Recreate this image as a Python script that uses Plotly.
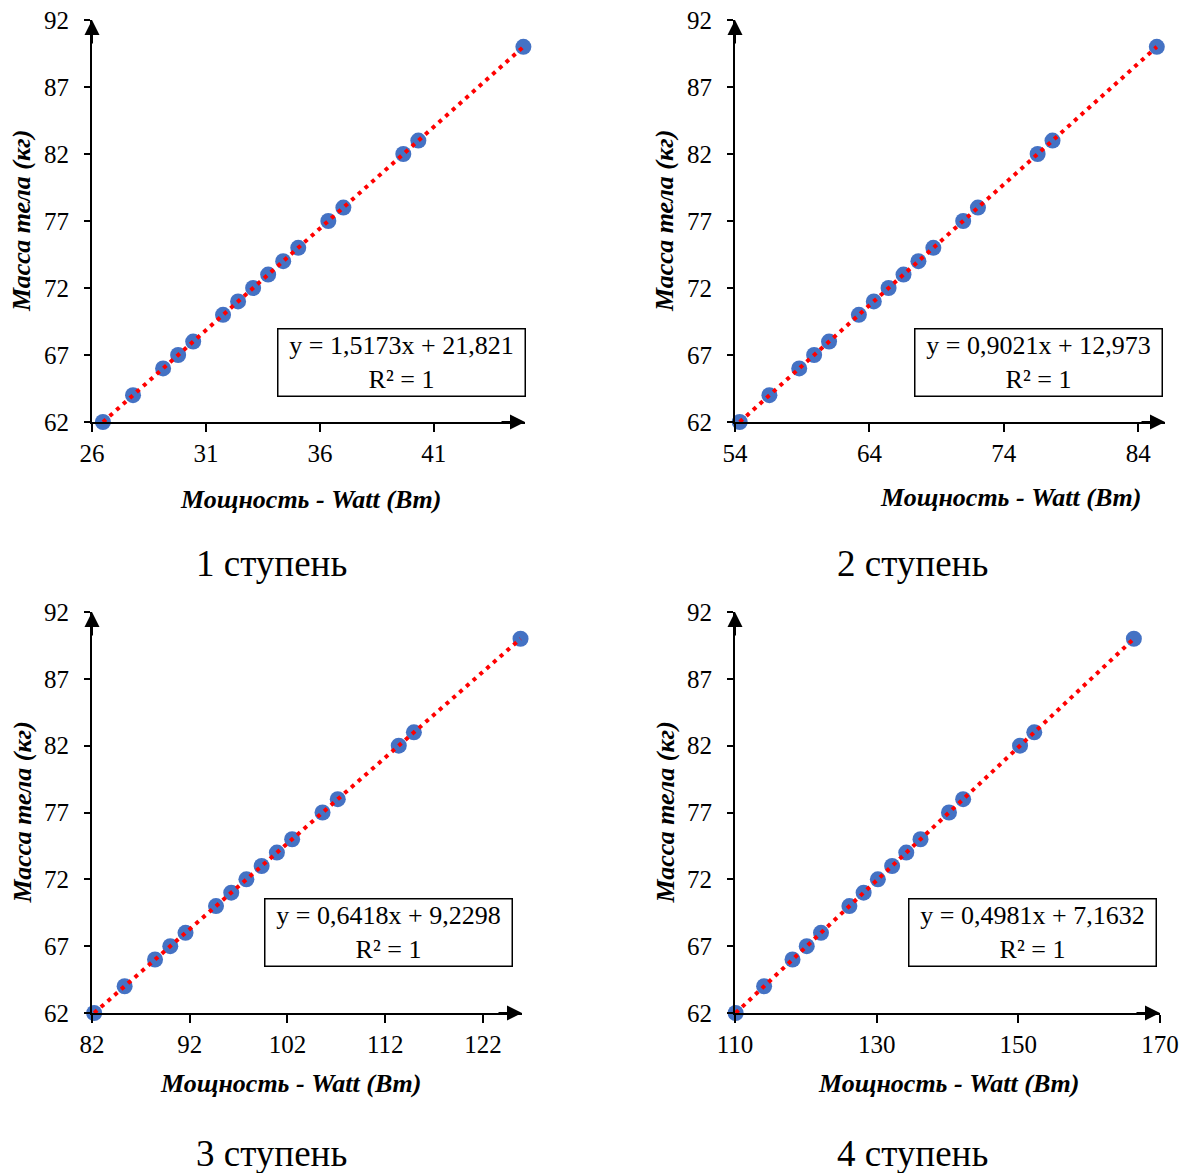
import numpy as np
import plotly.graph_objects as go

# body mass (kg), shared by all four stages
mass = [62, 64, 66, 67, 68, 70, 71, 72, 73, 74, 75, 77, 78, 82, 83, 90]

# power (W) per stage
power_1 = [26.48, 27.80, 29.12, 29.78, 30.44, 31.75, 32.41, 33.07, 33.73, 34.39, 35.05, 36.37, 37.03, 39.66, 40.32, 44.93]
power_2 = [54.35, 56.56, 58.78, 59.89, 61.00, 63.22, 64.33, 65.43, 66.54, 67.65, 68.76, 70.98, 72.08, 76.52, 77.63, 85.39]
power_3 = [82.22, 85.34, 88.45, 90.01, 91.57, 94.69, 96.25, 97.80, 99.36, 100.92, 102.48, 105.59, 107.15, 113.39, 114.94, 125.85]
power_4 = [110.09, 114.11, 118.12, 120.13, 122.14, 126.15, 128.16, 130.17, 132.18, 134.18, 136.19, 140.21, 142.21, 150.24, 152.25, 166.31]

equations = ["y = 1,5173x + 21,821", "y = 0,9021x + 12,973",
             "y = 0,6418x + 9,2298", "y = 0,4981x + 7,1632"]
captions = ["1 ступень", "2 ступень", "3 ступень", "4 ступень"]

W, H = 1189, 1173
FONT = "Liberation Serif"
BLUE = "#4472C4"


def px(x):
  return x / W


def py(y):
  return 1 - y / H


# panel geometry in pixels: (left, right, top, bottom)
boxes = [(92, 525, 20, 422), (735, 1165, 20, 422),
         (92, 522, 612, 1013), (735, 1160, 612, 1013)]
x_ranges = [[26, 45], [54, 86], [82, 126], [110, 170]]
x_ticks = [(26, 5), (54, 10), (82, 10), (110, 20)]
eq_boxes = [(402, 362), (1038, 362), (388, 932), (1032, 932)]
xtitle_pos = [(310, 500), (1010, 497), (290, 1083), (948, 1083)]
caption_pos = [(271, 563), (912, 563), (271, 1153), (912, 1153)]

fig = go.Figure()
layout = dict(width=W, height=H, margin=dict(l=0, r=0, t=0, b=0, autoexpand=False),
              plot_bgcolor="white", paper_bgcolor="white", showlegend=False,
              font=dict(family=FONT, color="black", size=25))
annotations = []


def label(x, y, text, size, **kw):
  return dict(xref="paper", yref="paper", x=px(x), y=py(y), text=text,
              showarrow=False, xanchor="center", yanchor="middle",
              font=dict(family=FONT, size=size, color="black"), **kw)


for i, xs in enumerate([power_1, power_2, power_3, power_4]):
  n = "" if i == 0 else str(i + 1)
  xa, ya = "x" + n, "y" + n
  l, r, t, b = boxes[i]

  fig.add_trace(go.Scatter(x=xs, y=mass, mode="markers", xaxis=xa, yaxis=ya,
                           marker=dict(size=16, color=BLUE), cliponaxis=False))
  # linear trendline over the data range
  k, c = np.polyfit(xs, mass, 1)
  tx = [min(xs), max(xs)]
  fig.add_trace(go.Scatter(x=tx, y=[k * v + c for v in tx], mode="lines",
                           xaxis=xa, yaxis=ya, cliponaxis=False,
                           line=dict(color="#FF0000", width=4, dash="4px,5px")))

  axis_common = dict(showgrid=False, zeroline=False, showline=True, automargin=False,
                     linecolor="black", linewidth=2, ticks="outside",
                     tickcolor="black", tickwidth=1.5,
                     tickfont=dict(family=FONT, size=25, color="black"))
  layout["xaxis" + n] = dict(axis_common, domain=[px(l), px(r)], range=x_ranges[i],
                             anchor=ya, tick0=x_ticks[i][0], dtick=x_ticks[i][1],
                             ticklen=8)
  layout["yaxis" + n] = dict(axis_common, domain=[py(b), py(t)], range=[62, 92],
                             anchor=xa, tick0=62, dtick=5, ticklen=6,
                             ticklabelstandoff=10)

  # arrows at axis ends
  annotations.append(dict(xref=xa + " domain", yref=ya + " domain", x=1, y=0,
                          ax=-25, ay=0, showarrow=True, arrowhead=2, arrowsize=1.5,
                          arrowwidth=2, arrowcolor="black", text=""))
  annotations.append(dict(xref=xa + " domain", yref=ya + " domain", x=0, y=1,
                          ax=0, ay=25, showarrow=True, arrowhead=2, arrowsize=1.5,
                          arrowwidth=2, arrowcolor="black", text=""))

  # equation box
  ex, ey = eq_boxes[i]
  annotations.append(label(ex, ey, equations[i] + "<br>R² = 1", 26,
                           align="center", width=244, height=64, borderpad=1,
                           bordercolor="black", borderwidth=1.5, bgcolor="white"))

  # axis titles
  xx, xy = xtitle_pos[i]
  annotations.append(label(xx, xy, "<b><i>Мощность - Watt (Вт)</i></b>", 26))
  annotations.append(label(l - 70, (t + b) / 2, "<b><i>Масса тела (кг)</i></b>", 26,
                           textangle=-90))

  # caption below the panel
  cx, cy = caption_pos[i]
  annotations.append(label(cx, cy, captions[i], 37))

layout["annotations"] = annotations
fig.update_layout(**layout)
fig.write_html("out.html", config={"displayModeBar": False},
               post_script="document.body.style.margin = '0';")
